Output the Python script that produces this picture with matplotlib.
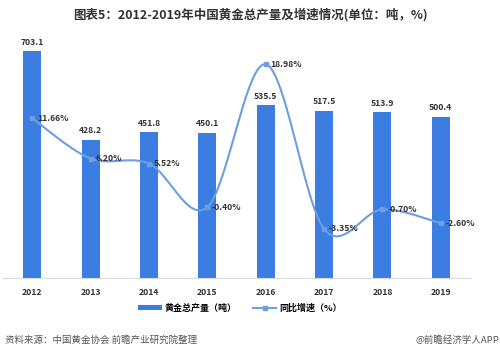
import numpy as np
import matplotlib
matplotlib.use("Agg")
import matplotlib.pyplot as plt
from matplotlib.lines import Line2D
from matplotlib.patches import Patch

plt.rcParams['font.family'] = ['Noto Sans CJK SC', 'DejaVu Sans']

years = ['2012', '2013', '2014', '2015', '2016', '2017', '2018', '2019']
production = [703.1, 428.2, 451.8, 450.1, 535.5, 517.5, 513.9, 500.4]
growth = [11.66, 6.20, 5.52, -0.40, 18.98, -3.35, -0.70, -2.60]
growth_labels = ['11.66%', '6.20%', '5.52%', '-0.40%', '18.98%', '-3.35%', '-0.70%', '-2.60%']

bar_color = '#3b7de0'
line_color = '#6b9fe2'

fig = plt.figure(figsize=(5.0, 3.55), dpi=100)
ax = fig.add_axes([0.006, 0.217, 0.934, 0.727])
ax2 = ax.twinx()

x = np.arange(len(years))
ax.bar(x, production, width=0.31, color=bar_color, zorder=2)
for xi, v in zip(x, production):
    ax.text(xi, v + 14, f'{v:.1f}', ha='center', va='bottom', fontsize=6.2,
            fontweight='bold', color='#333333')

ax.set_xlim(-0.5, 7.5)
ax.set_ylim(0, 800)
ax.set_yticks([])
ax.set_xticks(x)
ax.set_xticklabels(years, fontsize=6.2, fontweight='bold', color='#333333')
ax.tick_params(axis='x', length=0, pad=7)
for s in ['top', 'left', 'right']:
    ax.spines[s].set_visible(False)
ax.spines['bottom'].set_color('#d9d9d9')
ax.spines['bottom'].set_linewidth(0.8)

# smooth curve (Excel-like bezier through the points)
def smooth(xs, ys, n=40):
    xs = np.asarray(xs, float); ys = np.asarray(ys, float)
    P = np.column_stack([xs, ys])
    out = []
    for i in range(len(P) - 1):
        p0 = P[i - 1] if i > 0 else P[i]
        p1 = P[i]; p2 = P[i + 1]
        p3 = P[i + 2] if i + 2 < len(P) else P[i + 1]
        c1 = p1 + (p2 - p0) / 6.0
        c2 = p2 - (p3 - p1) / 6.0
        t = np.linspace(0, 1, n)[:, None]
        seg = (1 - t) ** 3 * p1 + 3 * (1 - t) ** 2 * t * c1 + 3 * (1 - t) * t ** 2 * c2 + t ** 3 * p2
        out.append(seg if i == 0 else seg[1:])
    return np.vstack(out)

curve = smooth(x, growth)
ax2.plot(curve[:, 0], curve[:, 1], color=line_color, lw=1.5, zorder=3)
ax2.plot(x, growth, 's', color=line_color, ms=3, zorder=4)
for xi, v, lab in zip(x, growth, growth_labels):
    ax2.text(xi + 0.08, v, lab, ha='left', va='center', fontsize=6.2,
             fontweight='bold', color='#333333', zorder=5)
ax2.set_ylim(-10, 25)
ax2.set_yticks([])
for s in ['top', 'left', 'right', 'bottom']:
    ax2.spines[s].set_visible(False)

fig.text(0.5, 0.958, '图表5：2012-2019年中国黄金总产量及增速情况(单位：吨，%)',
         ha='center', va='center', fontsize=9.0, fontweight='bold', color='#333333')

handles = [Patch(facecolor=bar_color, edgecolor='none'),
           Line2D([0], [0], color=line_color, lw=1.5, marker='s', ms=3)]
fig.legend(handles, ['黄金总产量（吨）', '同比增速（%）'], loc='center',
           bbox_to_anchor=(0.48, 0.132), ncol=2, frameon=False,
           prop={'size': 6.5, 'weight': 'bold'}, handlelength=2.6,
           handleheight=0.6, columnspacing=1.8, handletextpad=0.3)

fig.text(0.01, 0.042, '资料来源：中国黄金协会 前瞻产业研究院整理', ha='left', va='center',
         fontsize=6.8, color='#555555')
fig.text(0.998, 0.042, '@前瞻经济学人APP', ha='right', va='center',
         fontsize=6.8, color='#555555')

fig.savefig('out.png', dpi=100, facecolor='white')
